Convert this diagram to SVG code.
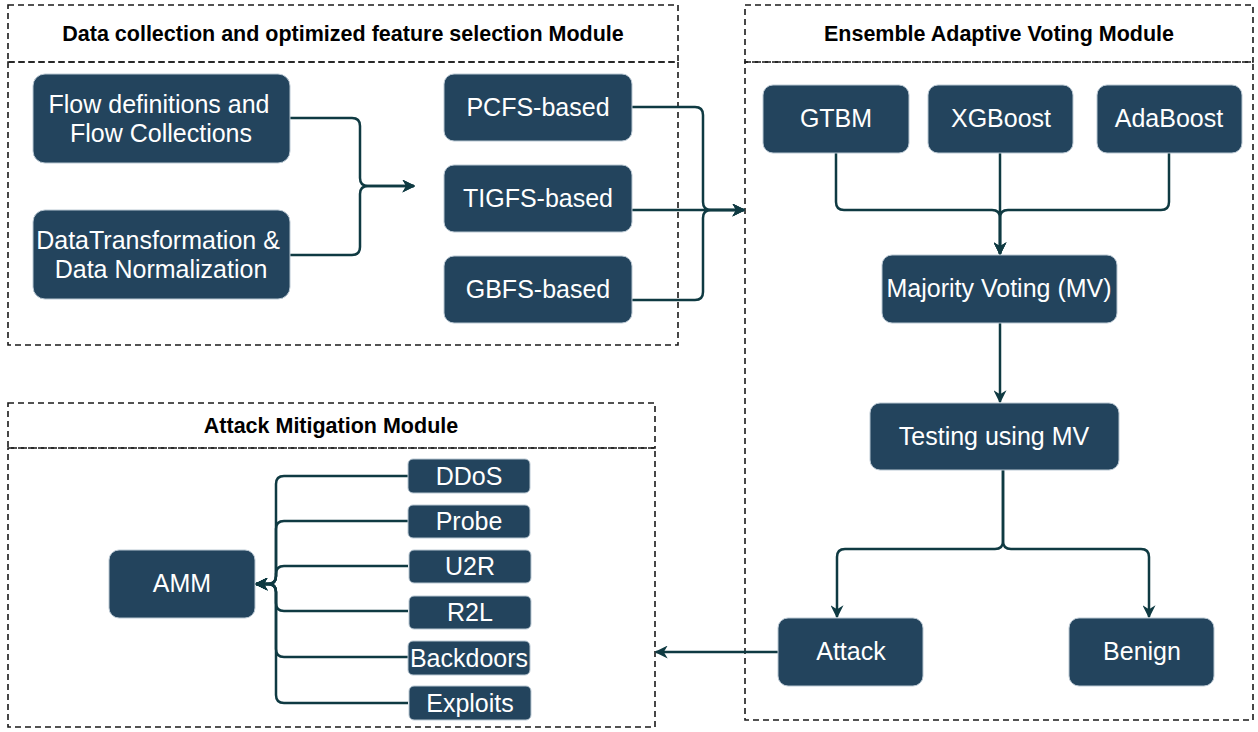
<svg xmlns="http://www.w3.org/2000/svg" width="1258" height="732" viewBox="0 0 1258 732">
<style>
.mod{fill:none;stroke:#1a1a1a;stroke-width:1.6;stroke-dasharray:6 4}
.title{font-family:"Liberation Sans",Arial,sans-serif;font-weight:bold;font-size:21.5px;fill:#000;text-anchor:middle}
.box{fill:#23445D;stroke:#BAC8D3;stroke-width:1}
.lbl{font-family:"Liberation Sans",Arial,sans-serif;font-size:25px;fill:#fff;text-anchor:middle}
.conn{fill:none;stroke:#0F3A42;stroke-width:2.5}
</style>
<defs>
<marker id="arrL" viewBox="0 0 10 10" refX="9" refY="5" markerWidth="13" markerHeight="13" markerUnits="userSpaceOnUse" orient="auto">
<path d="M0,0 L10,5 L0,10 L3,5 z" fill="#0F3A42"/>
</marker>
</defs>
<rect width="1258" height="732" fill="#fff"/>

<g id="module-data">
<rect class="mod" x="8" y="5" width="670" height="57"/>
<rect class="mod" x="8" y="62" width="670" height="283"/>
<text class="title" x="343" y="41">Data collection and optimized feature selection Module</text>
</g>
<g id="module-ensemble">
<rect class="mod" x="745" y="5" width="508" height="57"/>
<rect class="mod" x="745" y="62" width="508" height="658"/>
<text class="title" x="999" y="41">Ensemble Adaptive Voting Module</text>
</g>
<g id="module-mitigation">
<rect class="mod" x="8" y="403" width="647" height="45"/>
<rect class="mod" x="8" y="448" width="647" height="279"/>
<text class="title" x="331" y="433">Attack Mitigation Module</text>
</g>

<g id="connectors">
<path class="conn" d="M290,118 H352 Q360,118 360,126 V178 Q360,186 368,186 H414" marker-end="url(#arrL)"/>
<path class="conn" d="M290,255 H352 Q360,255 360,247 V194 Q360,186 368,186 H414" marker-end="url(#arrL)"/>
<path class="conn" d="M632,107 H695 Q703,107 703,115 V202 Q703,210 711,210 H744" marker-end="url(#arrL)"/>
<path class="conn" d="M632,210 H744" marker-end="url(#arrL)"/>
<path class="conn" d="M632,300 H695 Q703,300 703,292 V218 Q703,210 711,210 H744" marker-end="url(#arrL)"/>
<path class="conn" d="M836,153 V202 Q836,210 844,210 H992 Q1000,210 1000,218 V254" marker-end="url(#arrL)"/>
<path class="conn" d="M1000,153 V254" marker-end="url(#arrL)"/>
<path class="conn" d="M1169,153 V202 Q1169,210 1161,210 H1008 Q1000,210 1000,218 V254" marker-end="url(#arrL)"/>
<path class="conn" d="M1000,323 V402" marker-end="url(#arrL)"/>
<path class="conn" d="M1003,470 V541 Q1003,549 995,549 H845 Q837,549 837,557 V617" marker-end="url(#arrL)"/>
<path class="conn" d="M1003,470 V541 Q1003,549 1011,549 H1141 Q1149,549 1149,557 V617" marker-end="url(#arrL)"/>
<path class="conn" d="M778,652 H656" marker-end="url(#arrL)"/>
<path class="conn" d="M408,476 H284 Q276,476 276,484 V576 Q276,584 268,584 H256" marker-end="url(#arrL)"/>
<path class="conn" d="M408,521 H284 Q276,521 276,529 V576 Q276,584 268,584 H256" marker-end="url(#arrL)"/>
<path class="conn" d="M408,566 H284 Q276,566 276,574 V576 Q276,584 268,584 H256" marker-end="url(#arrL)"/>
<path class="conn" d="M408,611 H284 Q276,611 276,603 V592 Q276,584 268,584 H256" marker-end="url(#arrL)"/>
<path class="conn" d="M408,657 H284 Q276,657 276,649 V592 Q276,584 268,584 H256" marker-end="url(#arrL)"/>
<path class="conn" d="M408,703 H284 Q276,703 276,695 V592 Q276,584 268,584 H256" marker-end="url(#arrL)"/>
</g>

<g id="n-flow"><rect class="box" x="33" y="74" width="257" height="89" rx="12"/><text class="lbl" x="159" y="113">Flow definitions and</text><text class="lbl" x="161" y="142">Flow Collections</text></g>
<g id="n-transform"><rect class="box" x="33" y="210" width="257" height="89" rx="12"/><text class="lbl" x="158" y="249">DataTransformation &amp;</text><text class="lbl" x="161" y="278">Data Normalization</text></g>
<g id="n-pcfs"><rect class="box" x="444" y="74" width="188" height="67" rx="10"/><text class="lbl" x="538" y="116">PCFS-based</text></g>
<g id="n-tigfs"><rect class="box" x="444" y="165" width="188" height="67" rx="10"/><text class="lbl" x="538" y="207">TIGFS-based</text></g>
<g id="n-gbfs"><rect class="box" x="444" y="256" width="188" height="67" rx="10"/><text class="lbl" x="538" y="298">GBFS-based</text></g>
<g id="n-gtbm"><rect class="box" x="763" y="85" width="146" height="68" rx="10"/><text class="lbl" x="836" y="127">GTBM</text></g>
<g id="n-xgb"><rect class="box" x="928" y="85" width="145" height="68" rx="10"/><text class="lbl" x="1001" y="127">XGBoost</text></g>
<g id="n-ada"><rect class="box" x="1097" y="85" width="145" height="68" rx="10"/><text class="lbl" x="1169" y="127">AdaBoost</text></g>
<g id="n-mv"><rect class="box" x="882" y="255" width="235" height="68" rx="10"/><text class="lbl" x="999" y="297">Majority Voting (MV)</text></g>
<g id="n-test"><rect class="box" x="870" y="403" width="249" height="67" rx="10"/><text class="lbl" x="994" y="445">Testing using MV</text></g>
<g id="n-attack"><rect class="box" x="778" y="618" width="145" height="68" rx="10"/><text class="lbl" x="851" y="660">Attack</text></g>
<g id="n-benign"><rect class="box" x="1069" y="618" width="145" height="68" rx="10"/><text class="lbl" x="1142" y="660">Benign</text></g>
<g id="n-amm"><rect class="box" x="109" y="550" width="146" height="68" rx="10"/><text class="lbl" x="182" y="592">AMM</text></g>
<g id="n-ddos"><rect class="box" x="408" y="459" width="122" height="34" rx="5"/><text class="lbl" x="469" y="485">DDoS</text></g>
<g id="n-probe"><rect class="box" x="408" y="505" width="122" height="33" rx="5"/><text class="lbl" x="469" y="530">Probe</text></g>
<g id="n-u2r"><rect class="box" x="409" y="550" width="122" height="33" rx="5"/><text class="lbl" x="470" y="575">U2R</text></g>
<g id="n-r2l"><rect class="box" x="409" y="596" width="122" height="33" rx="5"/><text class="lbl" x="470" y="621">R2L</text></g>
<g id="n-backdoors"><rect class="box" x="408" y="641" width="122" height="34" rx="5"/><text class="lbl" x="469" y="667">Backdoors</text></g>
<g id="n-exploits"><rect class="box" x="409" y="686" width="122" height="34" rx="5"/><text class="lbl" x="470" y="712">Exploits</text></g>
</svg>
